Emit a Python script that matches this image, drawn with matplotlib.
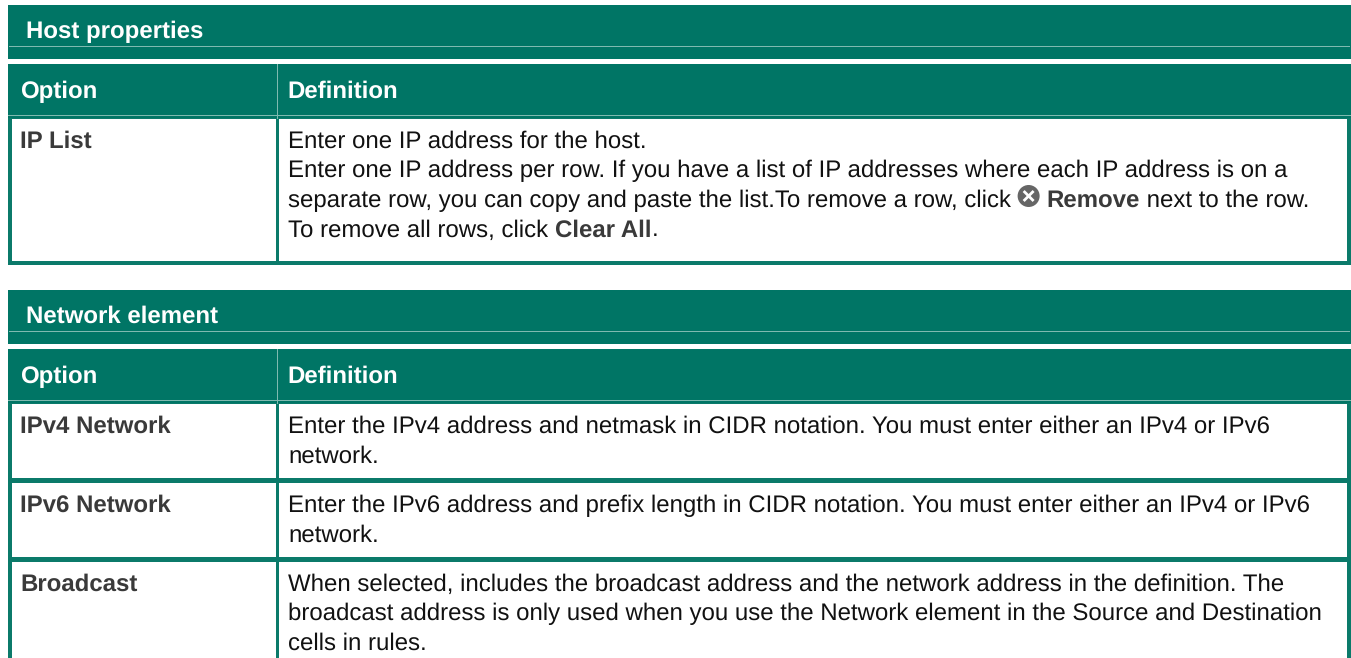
import matplotlib
matplotlib.use('Agg')
import matplotlib.pyplot as plt
from matplotlib.patches import Rectangle, Circle

GREEN = '#007565'
BORDER = '#0b7a6a'
LINE = '#7fbab0'
DARK = '#3a3a3a'
BLACK = '#111111'

plt.rcParams['font.family'] = ['Liberation Sans', 'DejaVu Sans']
plt.rcParams['text.hinting'] = 'no_hinting'

titles = ['Host properties', 'Network element']
headers = ['Option', 'Definition']

# each line is a list of (text, bold) runs, None marks the remove icon
host_rows = [
    ('IP List', [
        [('Enter one IP address for the host.', False)],
        [('Enter one IP address per row. If you have a list of IP addresses where each IP address is on a', False)],
        [('separate row, you can copy and paste the list.To remove a row, click ', False), None,
         ('Remove', True), (' next to the row.', False)],
        [('To remove all rows, click ', False), ('Clear All', True), ('.', False)],
    ]),
]
network_rows = [
    ('IPv4 Network', [
        [('Enter the IPv4 address and netmask in CIDR notation. You must enter either an IPv4 or IPv6', False)],
        [('network.', False)],
    ]),
    ('IPv6 Network', [
        [('Enter the IPv6 address and prefix length in CIDR notation. You must enter either an IPv4 or IPv6', False)],
        [('network.', False)],
    ]),
    ('Broadcast', [
        [('When selected, includes the broadcast address and the network address in the definition. The', False)],
        [('broadcast address is only used when you use the Network element in the Source and Destination', False)],
        [('cells in rules.', False)],
    ]),
]
host_row_bottoms = [265]
network_row_bottoms = [482, 561, 670]

LEFT = 8
RIGHT = 1351
SPLIT = 278
TEXT_PT = 17.25
LINE_H = 29.5

fig = plt.figure(figsize=(13.51, 6.58), dpi=100)
ax = fig.add_axes([0, 0, 1, 1])
ax.set_xlim(0, 1351)
ax.set_ylim(658, 0)
ax.axis('off')


def rect(x0, y0, x1, y1, color, z=1):
    ax.add_patch(Rectangle((x0, y0), x1 - x0, y1 - y0, facecolor=color, edgecolor='none', zorder=z))


def draw_line(x, y, runs):
    r = fig.canvas.get_renderer()
    for run in runs:
        if run is None:
            # remove icon
            ax.add_patch(Circle((x + 11, y - 11), 11, facecolor='#666666', edgecolor='none', zorder=4))
            ax.plot([x + 7, x + 15], [y - 15, y - 7], color='white', lw=2, zorder=5)
            ax.plot([x + 7, x + 15], [y - 7, y - 15], color='white', lw=2, zorder=5)
            x += 29
            continue
        s, bold = run
        ax.text(x, y, s, fontsize=TEXT_PT, color=DARK if bold else BLACK,
                fontweight='bold' if bold else 'normal', va='baseline', ha='left', zorder=4)
        # trailing spaces are not measured, so measure with a stand-in
        bb = ax.text(0, 0, s.replace(' ', '\u00a0'), fontsize=TEXT_PT,
                     fontweight='bold' if bold else 'normal')
        x += bb.get_window_extent(r).width
        bb.remove()


def section(title, rows, bottoms, top):
    # title bar
    rect(LEFT, top, RIGHT, top + 54, GREEN)
    rect(LEFT + 1, top + 41, RIGHT - 1, top + 42, LINE, 2)
    ax.text(LEFT + 18, top + 33, title, fontsize=TEXT_PT, fontweight='bold', color='white', va='baseline')

    # table header
    h0 = top + 59
    h1 = h0 + 50
    rect(LEFT, h0, RIGHT, h1 + 5, GREEN)
    rect(LEFT, h1 + 1, RIGHT, h1 + 2, LINE, 2)
    rect(SPLIT - 1, h0, SPLIT, h1 + 5, LINE, 2)
    ax.text(20, h0 + 34, headers[0], fontsize=TEXT_PT, fontweight='bold', color='white', va='baseline')
    ax.text(287, h0 + 34, headers[1], fontsize=TEXT_PT, fontweight='bold', color='white', va='baseline')

    # rows
    y0 = h1 + 4
    for (name, lines), y1 in zip(rows, bottoms):
        rect(LEFT, y0, RIGHT, y1, BORDER)
        rect(LEFT + 4, y0 + 1, SPLIT - 2, y1 - 4, 'white', 2)
        rect(SPLIT + 1, y0 + 1, RIGHT - 4, y1 - 4, 'white', 2)
        ax.text(20, y0 + 30, name, fontsize=TEXT_PT, fontweight='bold', color=DARK, va='baseline', zorder=4)
        for i, runs in enumerate(lines):
            draw_line(288, y0 + 30 + i * LINE_H, runs)
        y0 = y1


section(titles[0], host_rows, host_row_bottoms, 5)
section(titles[1], network_rows, network_row_bottoms, 290)

fig.savefig('out.png', dpi=100, facecolor='white')
